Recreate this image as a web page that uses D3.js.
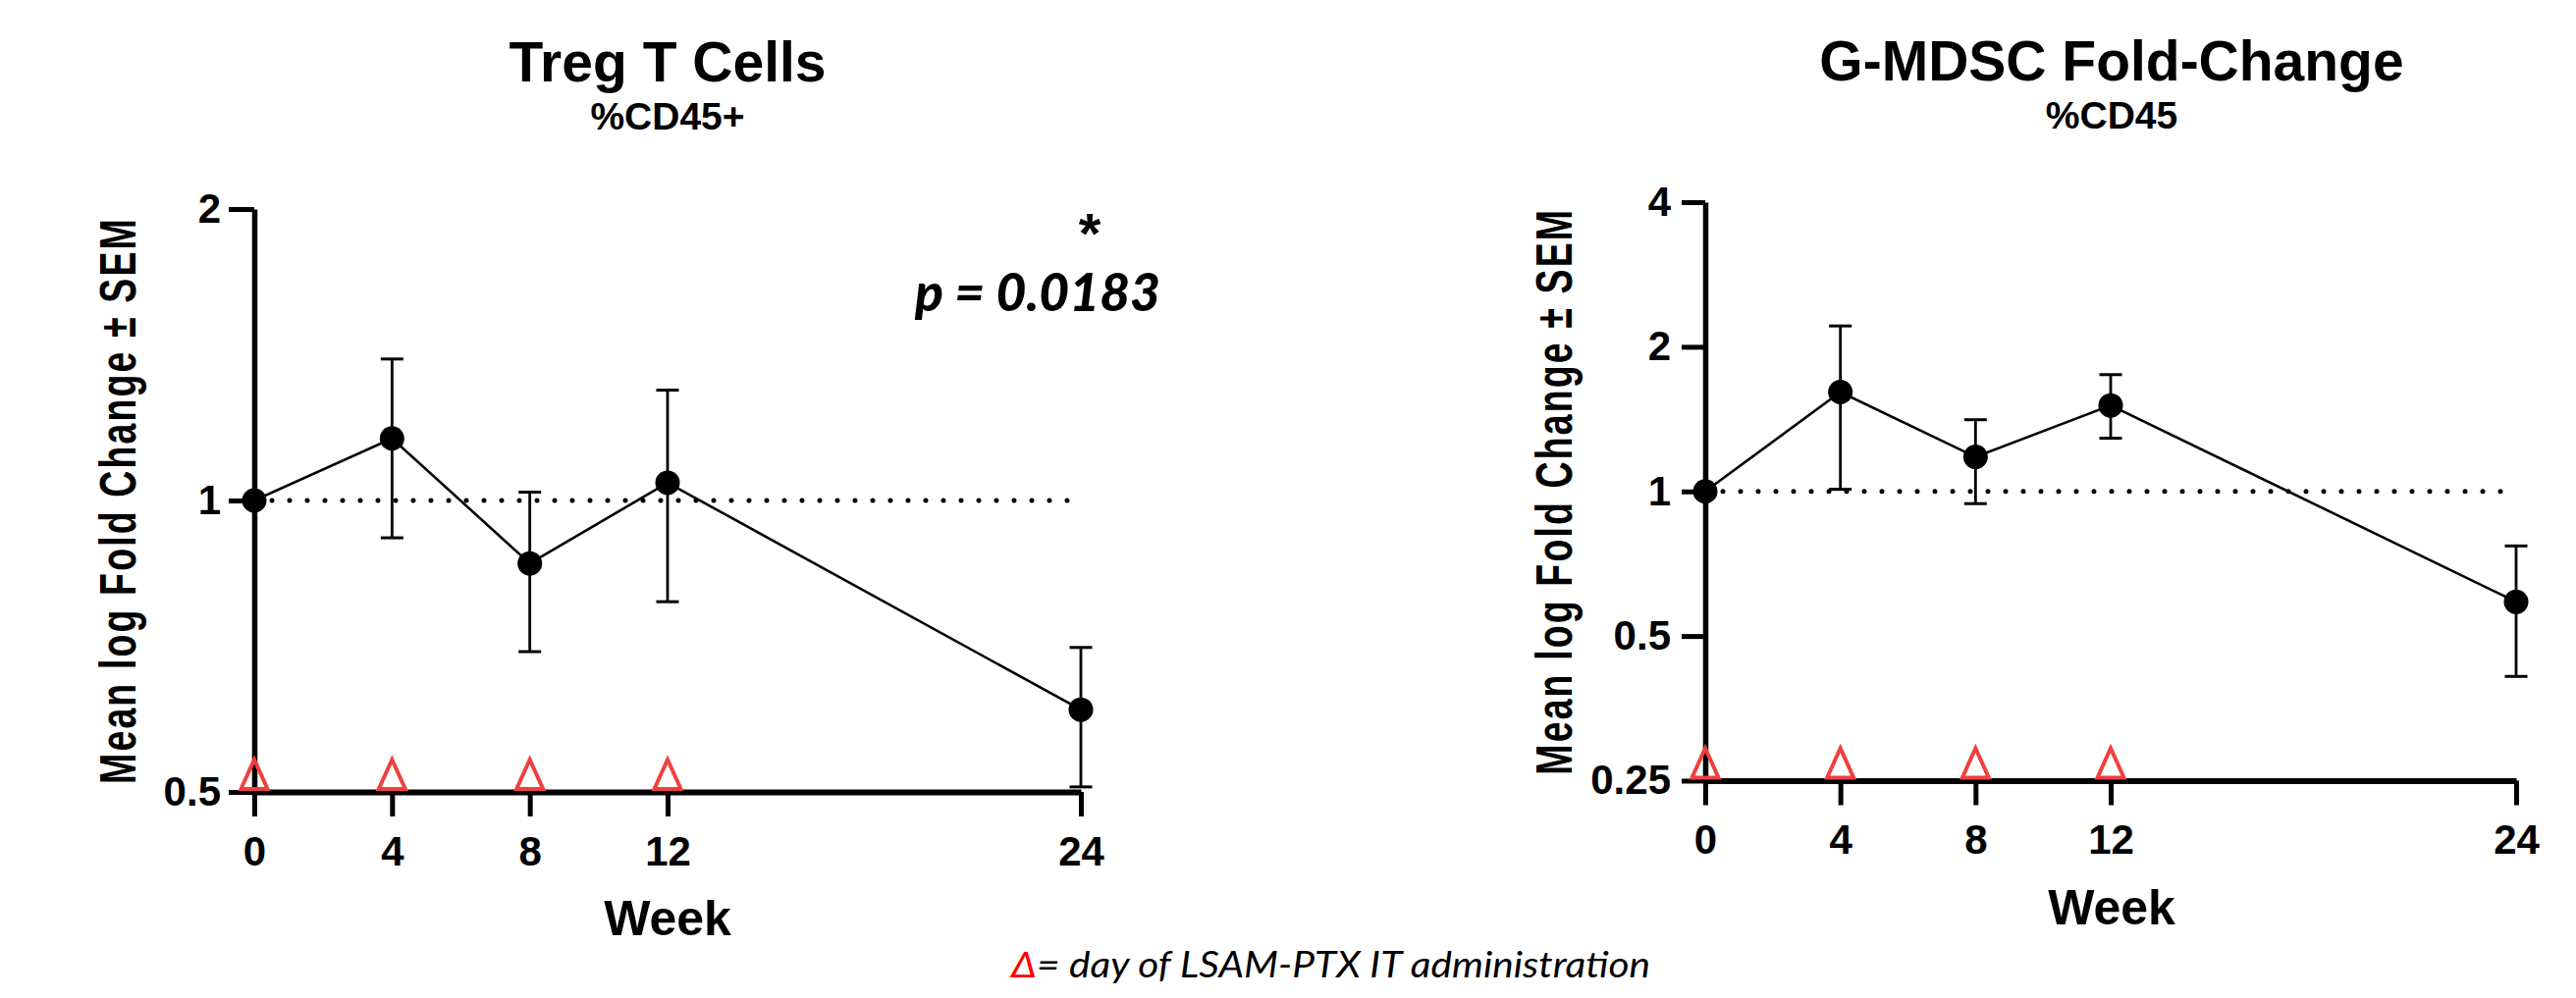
<!DOCTYPE html>
<html>
<head>
<meta charset="utf-8">
<script src="https://cdn.jsdelivr.net/npm/d3@7"></script>
<style>
  html, body { margin: 0; padding: 0; background: #ffffff; }
  svg { display: block; }
</style>
</head>
<body>
<svg id="chart" width="2624" height="1017"></svg>
<script>
// ---------- DATA ----------
const weeks = [0, 4, 8, 12, 24];
const xTickValues = [0, 4, 8, 12, 24];
const doseWeeks = [0, 4, 8, 12];
const refLineWeeks = [0, 23.8];

const tregMean  = [1, 1.159, 0.861, 1.043, 0.608];
const tregUpper = [null, 1.40, 1.02, 1.30, 0.705];
const tregLower = [null, 0.915, 0.698, 0.786, 0.506];
const tregTicks = [0.5, 1, 2];

const mdscMean  = [1, 1.61, 1.18, 1.51, 0.589];
const mdscUpper = [null, 2.21, 1.41, 1.75, 0.77];
const mdscLower = [null, 1.01, 0.943, 1.29, 0.412];
const mdscTicks = [0.25, 0.5, 1, 2, 4];

const titles = ["Treg T Cells", "G-MDSC Fold-Change"];
const subtitles = ["%CD45+", "%CD45"];
const yLabel = "Mean log Fold Change \u00B1 SEM";
const xLabel = "Week";
const pText = "p = 0.0183";
const starText = "*";
const footDelta = "\u0394";
const footText = "= day of LSAM-PTX IT administration";

// ---------- DRAW ----------
const svg = d3.select("#chart");
const BOLD = "'Liberation Sans', Arial, Helvetica, sans-serif";
const HUMAN = "Lato, 'Open Sans', sans-serif";
const RED = "#ef4040";

const panels = [
  {
    mean: tregMean, upper: tregUpper, lower: tregLower, ticks: tregTicks,
    title: titles[0], subtitle: subtitles[0],
    x: d3.scaleLinear().domain([0, 24]).range([259, 1101]),
    y: d3.scaleLog().base(2).domain([0.5, 2]).range([807, 213]),
    cx: 680, titleY: 83, subY: 132, yLabelX: 138, yTickSize: 26, yTickPad: 8
  },
  {
    mean: mdscMean, upper: mdscUpper, lower: mdscLower, ticks: mdscTicks,
    title: titles[1], subtitle: subtitles[1],
    x: d3.scaleLinear().domain([0, 24]).range([1737, 2563]),
    y: d3.scaleLog().base(2).domain([0.25, 4]).range([795.5, 206]),
    cx: 2151, titleY: 82, subY: 131, yLabelX: 1601, yTickSize: 24, yTickPad: 11
  }
];

panels.forEach(p => {
  const g = svg.append("g");
  const x = p.x, y = p.y;
  const y0 = y.range()[0];

  // titles
  g.append("text").attr("x", p.cx).attr("y", p.titleY)
    .attr("text-anchor", "middle").attr("font-family", BOLD)
    .attr("font-weight", "bold").attr("font-size", 57).text(p.title);
  g.append("text").attr("x", p.cx).attr("y", p.subY)
    .attr("text-anchor", "middle").attr("font-family", BOLD)
    .attr("font-weight", "bold").attr("font-size", 39).text(p.subtitle);

  // dotted reference line at 1
  g.append("line")
    .attr("x1", x(refLineWeeks[0])).attr("x2", x(refLineWeeks[1]))
    .attr("y1", y(1)).attr("y2", y(1))
    .attr("stroke", "#000").attr("stroke-width", 5)
    .attr("stroke-linecap", "round").attr("stroke-dasharray", "0,18");

  // y axis
  const yAxis = d3.axisLeft(y).tickValues(p.ticks)
    .tickFormat(d3.format("")).tickSize(p.yTickSize).tickSizeOuter(0).tickPadding(p.yTickPad);
  const ya = g.append("g").attr("transform", `translate(${x(0)},0)`).call(yAxis);
  ya.select(".domain").attr("stroke", "#000").attr("stroke-width", 5.5);
  ya.selectAll(".tick line").attr("stroke", "#000").attr("stroke-width", 5);
  ya.selectAll(".tick text").attr("font-family", BOLD).attr("font-weight", "bold")
    .attr("font-size", 42).attr("fill", "#000");

  // x axis
  const xAxis = d3.axisBottom(x).tickValues(xTickValues)
    .tickSize(25).tickSizeOuter(0).tickPadding(20);
  const xa = g.append("g").attr("transform", `translate(0,${y0})`).call(xAxis);
  xa.select(".domain").attr("stroke", "#000").attr("stroke-width", 6);
  xa.selectAll(".tick line").attr("stroke", "#000").attr("stroke-width", 5);
  xa.selectAll(".tick text").attr("font-family", BOLD).attr("font-weight", "bold")
    .attr("font-size", 42).attr("fill", "#000");

  // axis labels
  g.append("text").attr("x", p.cx).attr("y", y0 + 146)
    .attr("text-anchor", "middle").attr("font-family", BOLD)
    .attr("font-weight", "bold").attr("font-size", 50).text(xLabel);

  const midY = (y.range()[0] + y.range()[1]) / 2;
  g.append("g").attr("transform", `translate(${p.yLabelX},${midY}) rotate(-90)`)
    .append("text").attr("transform", "scale(0.72,1)")
    .attr("text-anchor", "middle").attr("font-family", BOLD)
    .attr("font-weight", "bold").attr("font-size", 52)
    .attr("letter-spacing", 3).text(yLabel);

  // data
  const pts = weeks.map((w, i) => ({ w, m: p.mean[i], hi: p.upper[i], lo: p.lower[i] }));

  g.append("path").datum(pts)
    .attr("d", d3.line().x(d => x(d.w)).y(d => y(d.m)))
    .attr("fill", "none").attr("stroke", "#000").attr("stroke-width", 2.6);

  const eb = g.append("g").selectAll("g").data(pts.filter(d => d.hi != null)).join("g");
  eb.append("line").attr("x1", d => x(d.w)).attr("x2", d => x(d.w))
    .attr("y1", d => y(d.hi)).attr("y2", d => y(d.lo))
    .attr("stroke", "#000").attr("stroke-width", 2.8);
  eb.append("line").attr("x1", d => x(d.w) - 11.5).attr("x2", d => x(d.w) + 11.5)
    .attr("y1", d => y(d.hi)).attr("y2", d => y(d.hi))
    .attr("stroke", "#000").attr("stroke-width", 3);
  eb.append("line").attr("x1", d => x(d.w) - 11.5).attr("x2", d => x(d.w) + 11.5)
    .attr("y1", d => y(d.lo)).attr("y2", d => y(d.lo))
    .attr("stroke", "#000").attr("stroke-width", 3);

  g.append("g").selectAll("circle").data(pts).join("circle")
    .attr("cx", d => x(d.w)).attr("cy", d => y(d.m)).attr("r", 12.5).attr("fill", "#000");

  // dose triangles
  g.append("g").selectAll("path").data(doseWeeks).join("path")
    .attr("d", d => {
      const cx = x(d), b = y0 - 3;
      return `M${cx - 13.5},${b} L${cx},${b - 30} L${cx + 13.5},${b} Z`;
    })
    .attr("fill", "none").attr("stroke", RED).attr("stroke-width", 4)
    .attr("stroke-linejoin", "miter");
});

// p-value annotation
svg.append("text").attr("x", 1110).attr("y", 258).attr("text-anchor", "middle")
  .attr("font-family", BOLD).attr("font-weight", "bold")
  .attr("font-size", 58).text(starText);
svg.append("text").attr("x", 932).attr("y", 317)
  .attr("font-family", HUMAN).attr("font-weight", 900)
  .attr("font-style", "italic").attr("font-size", 53)
  .attr("textLength", 250).attr("lengthAdjust", "spacingAndGlyphs").text(pText);

// footnote
const foot = svg.append("text").attr("x", 1030).attr("y", 996)
  .attr("font-family", HUMAN).attr("font-style", "italic")
  .attr("font-size", 36).attr("textLength", 651).attr("lengthAdjust", "spacingAndGlyphs");
foot.append("tspan").attr("fill", "#ff0000").text(footDelta);
foot.append("tspan").attr("fill", "#000").text(footText);
</script>
</body>
</html>
